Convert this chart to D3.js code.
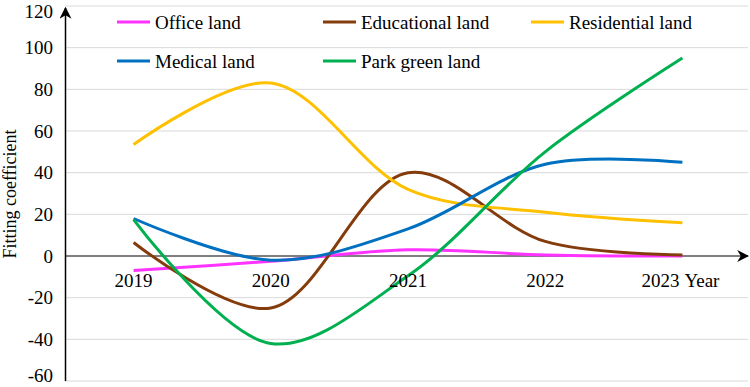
<!DOCTYPE html>
<html>
<head>
<meta charset="utf-8">
<script src="https://cdn.jsdelivr.net/npm/d3@7"></script>
<style>
  body { margin: 0; background: #fff; }
  svg { display: block; font-family: "Liberation Serif", "Times New Roman", serif; }
</style>
</head>
<body>
<svg id="chart" width="750" height="387"></svg>
<script>
// data
const years = ["2019", "2020", "2021", "2022", "2023"];
const yTicks = [-60, -40, -20, 0, 20, 40, 60, 80, 100, 120];
const officeLand = [-7, -2.5, 3, 0.5, 0];
const educationalLand = [6.5, -25, 40, 7, 0.5];
const residentialLand = [53.5, 83, 32, 21, 16];
const medicalLand = [18, -2, 13, 44, 45];
const parkGreenLand = [17.5, -42, -9.5, 50, 95];

const seriesNames = ["Office land", "Educational land", "Residential land", "Medical land", "Park green land"];
const seriesColors = ["#ff33ff", "#843c0c", "#ffc000", "#0070c0", "#00b050"];
const seriesValues = [officeLand, educationalLand, residentialLand, medicalLand, parkGreenLand];

let svg = d3.select("#chart");
let left = 65;
let fontSize = 19;

let x = d3.scalePoint()
    .domain(years)
    .range([left, 751])
    .padding(0.5);

let y = d3.scaleLinear()
    .domain([-60, 120])
    .range([381, 6]);

// gridlines
svg.append("g")
    .selectAll("line")
    .data(yTicks.filter(d => d !== 0))
    .join("line")
    .attr("x1", left)
    .attr("x2", 748)
    .attr("y1", d => y(d))
    .attr("y2", d => y(d))
    .attr("stroke", "#d9d9d9")
    .attr("stroke-width", 1);

// y tick labels (clamped so the end ones stay inside)
svg.append("g")
    .selectAll("text")
    .data(yTicks)
    .join("text")
    .attr("x", 53)
    .attr("y", d => Math.min(Math.max(y(d), 11), 375))
    .attr("dy", "0.35em")
    .attr("text-anchor", "end")
    .attr("font-size", fontSize)
    .text(d => d);

// y title
svg.append("text")
    .attr("transform", "translate(10,194) rotate(-90)")
    .attr("text-anchor", "middle")
    .attr("dy", "0.35em")
    .attr("font-size", 18)
    .text("Fitting coefficient");

// arrow marker
svg.append("defs").append("marker")
    .attr("id", "arrow")
    .attr("viewBox", "0 0 10 10")
    .attr("refX", 9)
    .attr("refY", 5)
    .attr("markerWidth", 12)
    .attr("markerHeight", 12)
    .attr("markerUnits", "userSpaceOnUse")
    .attr("orient", "auto")
    .append("path")
    .attr("d", "M0,0 L10,5 L0,10 L3,5 Z")
    .attr("fill", "#000");

let line = d3.line()
    .x((d, i) => x(years[i]))
    .y(d => y(d))
    .curve(d3.curveCatmullRom.alpha(0.5));

// axes
svg.append("line")
    .attr("x1", left).attr("x2", 748)
    .attr("y1", y(0)).attr("y2", y(0))
    .attr("stroke", "#000").attr("stroke-width", 1.2)
    .attr("marker-end", "url(#arrow)");

svg.append("line")
    .attr("x1", left + 0.5).attr("x2", left + 0.5)
    .attr("y1", y(-60)).attr("y2", 8)
    .attr("stroke", "#000").attr("stroke-width", 1.5)
    .attr("marker-end", "url(#arrow)");

// series
svg.append("g")
    .selectAll("path")
    .data(seriesValues)
    .join("path")
    .attr("d", d => line(d))
    .attr("fill", "none")
    .attr("stroke", (d, i) => seriesColors[i])
    .attr("stroke-width", 3);

// x labels
svg.append("g")
    .selectAll("text")
    .data(years.slice(0, 4))
    .join("text")
    .attr("x", d => x(d))
    .attr("y", 287)
    .attr("text-anchor", "middle")
    .attr("font-size", fontSize)
    .text(d => d);

svg.append("text")
    .attr("x", x("2023") - 3)
    .attr("y", 287)
    .attr("text-anchor", "end")
    .attr("font-size", fontSize)
    .text("2023");

svg.append("text")
    .attr("x", x("2023") + 2)
    .attr("y", 287)
    .attr("text-anchor", "start")
    .attr("font-size", fontSize)
    .text("Year");

// legend
let legendPos = [[117, 22], [323, 22], [531, 22], [117, 61], [323, 61]];
let legend = svg.append("g")
    .selectAll("g")
    .data(seriesNames)
    .join("g")
    .attr("transform", (d, i) => "translate(" + legendPos[i][0] + "," + legendPos[i][1] + ")");

legend.append("line")
    .attr("x1", 0).attr("x2", 33)
    .attr("stroke", (d, i) => seriesColors[i])
    .attr("stroke-width", 3);

legend.append("text")
    .attr("x", 38)
    .attr("dy", "0.35em")
    .attr("font-size", fontSize)
    .text(d => d);
</script>
</body>
</html>
